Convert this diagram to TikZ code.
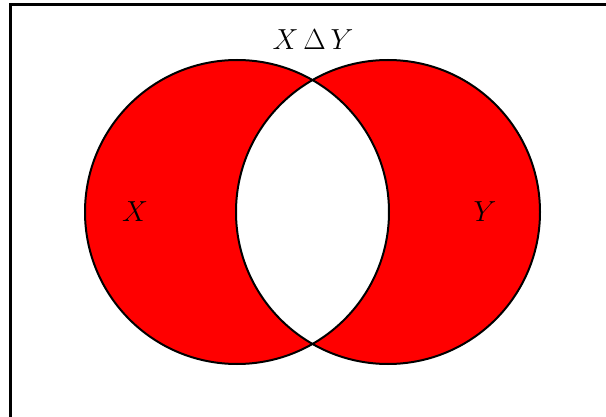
\documentclass[tikz,border=0pt]{standalone}
\usepackage{graphicx}
\newcommand{\biglbl}[1]{\scalebox{1.166}{\Huge #1}}
\begin{document}
\begin{tikzpicture}[x=1pt,y=-1pt,
  setline/.style={line width=2pt},
  lbl/.style={inner sep=0pt}]
\useasboundingbox (0,0) rectangle (606,417);
\draw[line width=3pt] (10.5,420) -- (10.5,4.5) -- (610,4.5);
\coordinate (cx) at (237,212);
\coordinate (cy) at (388,212);
\fill[red,even odd rule] (cx) circle (152) (cy) circle (152);
\draw[setline] (cx) circle (152);
\draw[setline] (cy) circle (152);
\node[lbl] (lx) at (135,212) {\biglbl{$X$}};
\node[lbl] (ly) at (485,212) {\biglbl{$Y$}};
\node[lbl] (ld) at (313,40) {\biglbl{$X\,\Delta\,Y$}};
\end{tikzpicture}
\end{document}
